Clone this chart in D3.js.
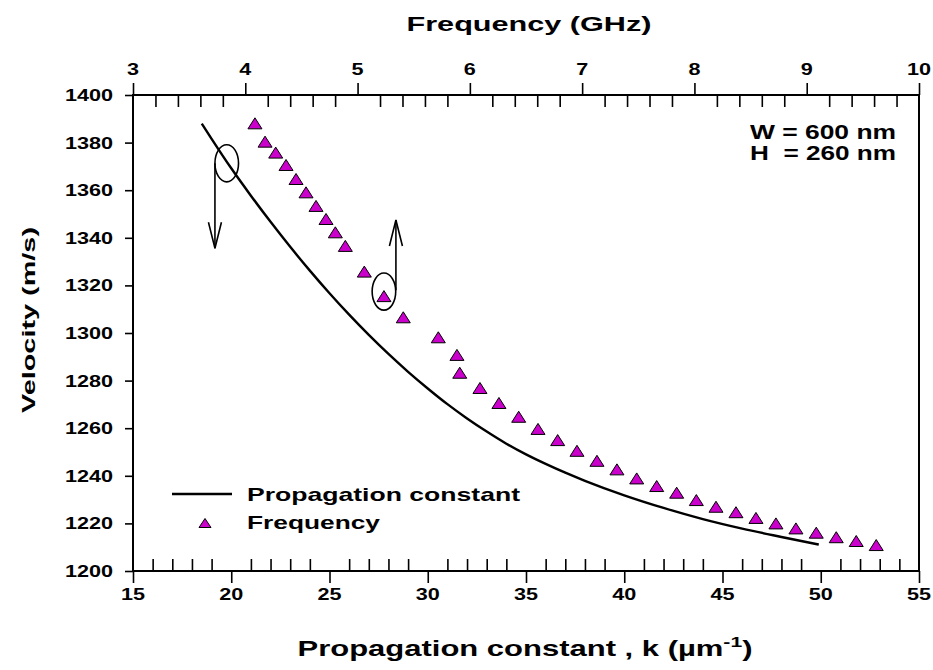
<!DOCTYPE html>
<html>
<head>
<meta charset="utf-8">
<script src="https://cdn.jsdelivr.net/npm/d3@7"></script>
<style>
  html, body { margin: 0; padding: 0; background: #fff; }
  svg text { font-family: "Liberation Sans", Arial, sans-serif; font-weight: bold; fill: #000; }
</style>
</head>
<body>
<svg id="chart" width="933" height="670"></svg>
<script>
// ---- data ----
// Propagation constant curve (bottom axis k, µm^-1) vs velocity (m/s)
const kValues = [18.5, 19.0, 20.0, 21.0, 22.0, 23.0, 24.0, 25.0, 26.0, 27.0, 28.0, 29.0, 30.0, 31.0, 32.0, 33.0, 34.0, 35.0, 36.0, 37.0, 38.0, 40.0, 42.0, 44.0, 46.0, 48.0, 49.9];
const kVelocity = [1388.0, 1381.6, 1369.2, 1357.7, 1346.7, 1336.2, 1326.2, 1316.7, 1307.7, 1299.2, 1291.2, 1283.7, 1276.7, 1270.1, 1264.1, 1258.6, 1253.5, 1249.0, 1245.0, 1241.3, 1237.9, 1231.8, 1226.5, 1221.8, 1217.8, 1214.3, 1211.1];
// Frequency series (top axis, GHz) vs velocity (m/s)
const freqValues = [4.086, 4.176, 4.271, 4.363, 4.452, 4.541, 4.630, 4.719, 4.802, 4.891, 5.060, 5.235, 5.407, 5.719, 5.885, 5.91, 6.090, 6.259, 6.435, 6.607, 6.782, 6.954, 7.132, 7.310, 7.486, 7.664, 7.842, 8.017, 8.192, 8.370, 8.548, 8.726, 8.904, 9.085, 9.263, 9.441, 9.619];
const freqVelocity = [1388.1, 1380.4, 1375.8, 1370.6, 1364.7, 1359.1, 1353.4, 1347.9, 1342.3, 1336.6, 1325.8, 1315.5, 1306.6, 1298.2, 1290.8, 1283.3, 1276.9, 1270.6, 1264.8, 1259.7, 1255.0, 1250.5, 1246.3, 1242.7, 1238.9, 1235.7, 1232.9, 1229.8, 1227.0, 1224.7, 1222.3, 1220.0, 1217.9, 1216.1, 1214.2, 1212.6, 1210.9];
// tick labels
const kTicks = [15, 20, 25, 30, 35, 40, 45, 50, 55];
const kMinorTicks = [16,17,18,19,21,22,23,24,26,27,28,29,31,32,33,34,36,37,38,39,41,42,43,44,46,47,48,49,51,52,53,54];
const freqTicks = [3, 4, 5, 6, 7, 8, 9, 10];
const freqMinorTicks = [3.2,3.4,3.6,3.8,4.2,4.4,4.6,4.8,5.2,5.4,5.6,5.8,6.2,6.4,6.6,6.8,7.2,7.4,7.6,7.8,8.2,8.4,8.6,8.8,9.2,9.4,9.6,9.8];
const velTicks = [1200, 1220, 1240, 1260, 1280, 1300, 1320, 1340, 1360, 1380, 1400];
// annotations (data coords, k axis): ellipse centre and arrow ranges
const ellipses = [{k: 19.77, v: 1371.3}, {k: 27.77, v: 1317.4}];
const arrows = [{k: 19.17, from: 1371.3, to: 1335.6}, {k: 28.38, from: 1318.0, to: 1347.5}];
const legendLabels = ["Propagation constant", "Frequency"];
const infoLines = ["W = 600 nm", "H  = 260 nm"];

// ---- layout ----
const svg = d3.select("#chart");
const L = 133, R = 919, T = 95, B = 571;
const x = d3.scaleLinear().domain([15, 55]).range([L, R]);
const xTop = d3.scaleLinear().domain([3, 10]).range([L, R]);
const y = d3.scaleLinear().domain([1200, 1400]).range([B, T]);

function stretchedText(g, txt, px, py, size, width, anchor) {
  const t = g.append("text").attr("x", px).attr("y", py)
    .attr("font-size", size).attr("text-anchor", anchor || "start")
    .text(txt);
  if (width) t.attr("textLength", width).attr("lengthAdjust", "spacingAndGlyphs");
  return t;
}

// axes ticks
const tickStroke = 1.6;
svg.append("g").attr("transform", `translate(0,${B})`)
  .call(d3.axisBottom(x).tickValues(kTicks).tickSize(12).tickFormat(""))
  .call(g => g.select(".domain").remove())
  .call(g => g.selectAll("line").attr("stroke-width", tickStroke));
svg.append("g").attr("transform", `translate(0,${B})`)
  .call(d3.axisTop(x).tickValues(kMinorTicks).tickSize(12).tickFormat(""))
  .call(g => g.select(".domain").remove())
  .call(g => g.selectAll("line").attr("stroke-width", tickStroke));
svg.append("g").attr("transform", `translate(0,${T})`)
  .call(d3.axisTop(xTop).tickValues(freqTicks).tickSize(12).tickFormat(""))
  .call(g => g.select(".domain").remove())
  .call(g => g.selectAll("line").attr("stroke-width", tickStroke));
svg.append("g").attr("transform", `translate(0,${T})`)
  .call(d3.axisBottom(xTop).tickValues(freqMinorTicks).tickSize(12).tickFormat(""))
  .call(g => g.select(".domain").remove())
  .call(g => g.selectAll("line").attr("stroke-width", tickStroke));
svg.append("g").attr("transform", `translate(${L},0)`)
  .call(d3.axisLeft(y).tickValues(velTicks).tickSize(8).tickFormat(""))
  .call(g => g.select(".domain").remove())
  .call(g => g.selectAll("line").attr("stroke-width", tickStroke));

// frame
svg.append("rect").attr("x", L).attr("y", T).attr("width", R - L).attr("height", B - T)
  .attr("fill", "none").attr("stroke", "#000").attr("stroke-width", 2);

// tick labels
const digitW = 12;
const lab = svg.append("g");
kTicks.forEach(v => stretchedText(lab, String(v), x(v), 600, 16, String(v).length * digitW, "middle"));
freqTicks.forEach(v => stretchedText(lab, String(v), xTop(v), 75, 16, String(v).length * digitW, "middle"));
velTicks.forEach(v => stretchedText(lab, String(v), L - 20, y(v) + 6, 16, String(v).length * digitW, "end"));

// titles
stretchedText(svg, "Frequency (GHz)", 529, 31, 21, 245, "middle");
const bt = svg.append("text").attr("x", 525).attr("y", 656).attr("font-size", 22)
  .attr("text-anchor", "middle").attr("textLength", 455).attr("lengthAdjust", "spacingAndGlyphs");
bt.append("tspan").text("Propagation constant , k (\u00b5m");
bt.append("tspan").attr("dy", -9).attr("font-size", 15).text("-1");
bt.append("tspan").attr("dy", 9).text(")");
svg.append("text").attr("transform", "translate(35,320) rotate(-90)")
  .attr("font-size", 19).attr("text-anchor", "middle")
  .attr("textLength", 186).attr("lengthAdjust", "spacingAndGlyphs")
  .text("Velocity (m/s)");

// info text
stretchedText(svg, infoLines[0], 750, 139, 20, 146, "start").style("white-space", "pre");
stretchedText(svg, infoLines[1], 750, 160, 20, 146, "start").style("white-space", "pre");

// line
const lineData = kValues.map((k, i) => [k, kVelocity[i]]);
svg.append("path").datum(lineData)
  .attr("fill", "none").attr("stroke", "#000").attr("stroke-width", 2.4)
  .attr("d", d3.line().x(d => x(d[0])).y(d => y(d[1])).curve(d3.curveMonotoneX));

// triangles
const tri = "M0,-5.5L7,5.5L-7,5.5Z";
svg.append("g").selectAll("path").data(freqValues.map((f, i) => [f, freqVelocity[i]]))
  .join("path")
  .attr("d", tri)
  .attr("transform", d => `translate(${xTop(d[0])},${y(d[1])})`)
  .attr("fill", "#cc00cc").attr("stroke", "#000").attr("stroke-width", 1);

// annotations
ellipses.forEach(e => {
  svg.append("ellipse").attr("cx", x(e.k)).attr("cy", y(e.v))
    .attr("rx", x(e.k + 0.6) - x(e.k)).attr("ry", y(e.v) - y(e.v + 7.8))
    .attr("fill", "none").attr("stroke", "#000").attr("stroke-width", 1.6);
});
arrows.forEach(a => {
  const ax = x(a.k), y0 = y(a.from), y1 = y(a.to);
  const dir = y1 > y0 ? -1 : 1;
  const g = svg.append("g").attr("stroke", "#000").attr("stroke-width", 1.6).attr("fill", "none");
  g.append("line").attr("x1", ax).attr("x2", ax).attr("y1", y0).attr("y2", y1);
  g.append("path").attr("d", `M${ax - 6.5},${y1 + dir * 26}L${ax},${y1}L${ax + 6.5},${y1 + dir * 26}`);
});

// legend
const lg = svg.append("g");
lg.append("line").attr("x1", 172).attr("x2", 232).attr("y1", 494).attr("y2", 494)
  .attr("stroke", "#000").attr("stroke-width", 2.4);
lg.append("path").attr("d", "M0,-4.5L6,4.5L-6,4.5Z").attr("transform", "translate(205,523)")
  .attr("fill", "#cc00cc").attr("stroke", "#000").attr("stroke-width", 1);
stretchedText(lg, legendLabels[0], 247, 501, 19, 273, "start");
stretchedText(lg, legendLabels[1], 247, 529, 19, 133, "start");
</script>
</body>
</html>
